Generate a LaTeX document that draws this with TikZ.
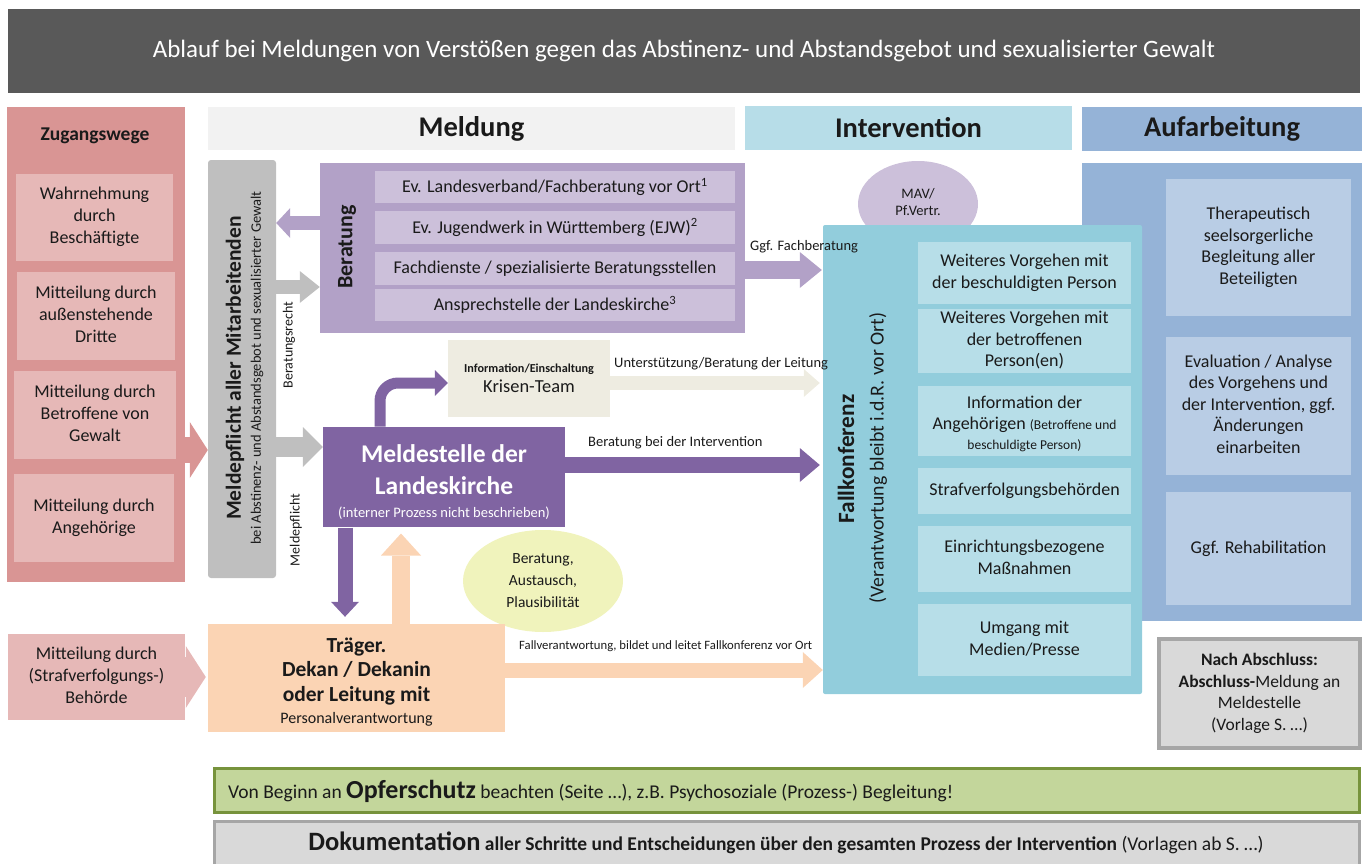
\documentclass[tikz,border=0pt]{standalone}
\usepackage{fontspec}
\setmainfont{Carlito}
\usetikzlibrary{arrows.meta, shapes.geometric}

\definecolor{titlegray}{HTML}{595959}
\definecolor{zugdark}{HTML}{D99594}
\definecolor{zuglight}{HTML}{E6B8B7}
\definecolor{meldhead}{HTML}{F2F2F2}
\definecolor{inthead}{HTML}{B7DDE8}
\definecolor{aufhead}{HTML}{95B3D7}
\definecolor{pflgray}{HTML}{BFBFBF}
\definecolor{berdark}{HTML}{B2A1C7}
\definecolor{berlight}{HTML}{CCC0DA}
\definecolor{melpurple}{HTML}{8064A2}
\definecolor{krisenc}{HTML}{EEECE1}
\definecolor{peach}{HTML}{FBD4B4}
\definecolor{yellowc}{HTML}{F0F3BC}
\definecolor{fallblue}{HTML}{92CDDC}
\definecolor{falllight}{HTML}{B7DEE8}
\definecolor{auflight}{HTML}{B9CDE5}
\definecolor{nachgray}{HTML}{D9D9D9}
\definecolor{nachline}{HTML}{A6A6A6}
\definecolor{opfergreen}{HTML}{C3D69B}
\definecolor{opferline}{HTML}{77933C}
\definecolor{textc}{HTML}{1A1A1A}

\newcommand{\fsz}[2]{\fontsize{#1}{#2}\selectfont}
\newcommand{\mlines}[1]{\begin{tabular}{@{}c@{}}#1\end{tabular}}

\tikzset{
  sz/.style 2 args={minimum width=#1pt, minimum height=#2pt},
  box/.style={inner sep=0pt, text=textc},
  head/.style={box, font=\bfseries\fsz{28.5}{32}},
  zbox/.style={box, fill=zuglight, font=\fsz{18}{22}},
  bbox/.style={box, fill=berlight, font=\fsz{18}{21}, sz={360}{32.5}},
  fbox/.style={box, fill=falllight, font=\fsz{18}{21.5}},
  abox/.style={box, fill=auflight, font=\fsz{18}{21.5}},
  lbl/.style={inner sep=0pt, text=textc, font=\fsz{14.5}{17}},
  fat/.style n args={4}{draw=#1, line width=#2pt,
    -{Triangle[width=#3pt, length=#4pt, line width=0pt]}},
}

\begin{document}
\begin{tikzpicture}[x=1pt, y=-1pt]
\useasboundingbox (0,0) rectangle (1367,864);

% title and column heads
\node[box, fill=titlegray, text=white, sz={1352}{84}, font=\fsz{25}{29}] (title) at (684,51)
  {Ablauf bei Meldungen von Verstößen gegen das Abstinenz- und Abstandsgebot und sexualisierter Gewalt};
\node[head, fill=meldhead, sz={527}{43}] (hmeld) at (471.5,128.5) {Meldung};
\node[head, fill=inthead, sz={327}{44}] (hint) at (908.5,128) {Intervention};
\node[head, fill=aufhead, sz={280}{44}] (hauf) at (1222,129) {Aufarbeitung};

% Zugangswege
\node[box, fill=zugdark, sz={178}{475}] (zug) at (96,344.5) {};
\node[lbl, font=\bfseries\fsz{19.5}{22}] (zughead) at (95,136) {Zugangswege};
\node[zbox, sz={157}{87}] (z1) at (94.5,217.5) {\mlines{Wahrnehmung\\durch\\Beschäftigte}};
\node[zbox, sz={158}{88}] (z2) at (96,316) {\mlines{Mitteilung durch\\außenstehende\\Dritte}};
\node[zbox, sz={162}{88}] (z3) at (95,415) {\mlines{Mitteilung durch\\Betroffene von\\Gewalt}};
\node[zbox, sz={160}{88}] (z4) at (94,518) {\mlines{Mitteilung durch\\Angehörige}};
\node[zbox, sz={177}{86}] (behoerde) at (96.5,677) {\mlines{Mitteilung durch\\(Strafverfolgungs-)\\Behörde}};

% Meldepflicht
\node[box, fill=pflgray, rounded corners=3pt, sz={68}{418}] (pflicht) at (242,369) {};
\node[lbl, rotate=90, font=\bfseries\fsz{21.5}{24}] (pfl1) at (235,368) {Meldepflicht aller Mitarbeitenden};
\node[lbl, rotate=90, font=\fsz{14.5}{17}] (pfl2) at (257,368) {bei Abstinenz- und Abstandsgebot und sexualisierter Gewalt};

% Beratung
\node[box, fill=berdark, sz={425}{170}] (ber) at (532.5,248) {};
\node[lbl, rotate=90, font=\bfseries\fsz{22}{26}] (berhead) at (347,247) {Beratung};
\node[bbox] (b1) at (555,187) {Ev. Landesverband/Fachberatung vor Ort\textsuperscript{1}};
\node[bbox] (b2) at (555,227.5) {Ev. Jugendwerk in Württemberg (EJW)\textsuperscript{2}};
\node[bbox] (b3) at (555,268.5) {Fachdienste / spezialisierte Beratungsstellen};
\node[bbox] (b4) at (555,305) {Ansprechstelle der Landeskirche\textsuperscript{3}};

% Krisen-Team
\node[box, fill=krisenc, sz={162}{77}, font=\fsz{16}{19.5}] (krisen) at (529,378.5)
  {\mlines{{\bfseries\fsz{12.2}{15}Information/Einschaltung}\\{\fsz{18.4}{20}Krisen-Team}}};

% Meldestelle
\node[box, fill=melpurple, text=white, sz={242}{100}, font=\bfseries\fsz{25.5}{32}] (melde) at (444,477)
  {\mlines{\rule{0pt}{36pt}Meldestelle der\\Landeskirche\\[-9pt]{\mdseries\fsz{14.5}{17}(interner Prozess nicht beschrieben)}}};

% Beratung, Austausch
\node[ellipse, fill=yellowc, inner sep=0pt, sz={160}{102},
  text=textc, font=\fsz{15.5}{22}] (austausch) at (543,581)
  {\mlines{Beratung,\\Austausch,\\Plausibilität}};

% Traeger
\node[box, fill=peach, sz={297}{108}, font=\bfseries\fsz{21.5}{24.5}] (traeger) at (356.5,678)
  {\mlines{\rule{0pt}{27pt}Träger.\\Dekan / Dekanin\\oder Leitung mit\\[-2pt]{\mdseries\fsz{16}{18}Personalverantwortung}}};

% Aufarbeitung
\node[box, fill=aufhead, sz={280}{458}] (auf) at (1222,392) {};
\node[abox, sz={185}{137}] (a1) at (1258.5,247.5) {\mlines{Therapeutisch\\seelsorgerliche\\Begleitung aller\\Beteiligten}};
\node[abox, sz={185}{138}] (a2) at (1258.5,406) {\mlines{Evaluation / Analyse\\des Vorgehens und\\der Intervention, ggf.\\Änderungen\\einarbeiten}};
\node[abox, sz={185}{113}] (a3) at (1258.5,548.5) {Ggf. Rehabilitation};

% MAV
\node[ellipse, fill=berlight, inner sep=0pt, sz={120}{86},
  text=textc, font=\fsz{14.5}{17}] (mav) at (918,204) {\mlines{MAV/\\Pf.Vertr.}};

% Fallkonferenz
\node[box, fill=fallblue, rounded corners=2pt, sz={319}{469}] (fall) at (982.5,459.5) {};
\node[lbl, rotate=90, font=\bfseries\fsz{23.3}{26}] (fallhead) at (846,459) {Fallkonferenz};
\node[lbl, rotate=90, font=\fsz{19.8}{22}] (fallsub) at (878,458) {(Verantwortung bleibt i.d.R. vor Ort)};
\node[fbox, sz={213}{62}] (f1) at (1024.5,273) {\mlines{Weiteres Vorgehen mit\\der beschuldigten Person}};
\node[fbox, sz={213}{62}] (f2) at (1024.5,341) {\mlines{Weiteres Vorgehen mit\\der betroffenen\\Person(en)}};
\node[fbox, sz={213}{70}] (f3) at (1024.5,421)
  {\mlines{\rule{0pt}{22pt}Information der\\Angehörigen {\fsz{13.5}{16}(Betroffene und}\\[-2pt]{\fsz{13.5}{16}beschuldigte Person)}}};
\node[fbox, sz={213}{46}] (f4) at (1024.5,491) {Strafverfolgungsbehörden};
\node[fbox, sz={213}{66}] (f5) at (1024.5,559) {\mlines{Einrichtungsbezogene\\Maßnahmen}};
\node[fbox, sz={213}{72}] (f6) at (1024.5,640) {\mlines{Umgang mit\\Medien/Presse}};

% Abschluss
\node[box, fill=nachgray, draw=nachline, line width=4pt, sz={201}{109}, font=\fsz{17.5}{21.5}] (nach) at (1259.5,693.5)
  {\mlines{\textbf{Nach Abschluss:}\\\textbf{Abschluss-}Meldung an\\Meldestelle\\(Vorlage S. …)}};

% bottom bars
\node[box, fill=opfergreen, draw=opferline, line width=3pt, sz={1145}{44}] (opfer) at (786.5,790) {};
\node[lbl, anchor=west, font=\fsz{19.5}{22}] (opfertext) at (228,791)
  {Von Beginn an {\bfseries\fsz{26}{28}Opferschutz} beachten (Seite …), z.B. Psychosoziale (Prozess-) Begleitung!};
\node[box, fill=nachgray, draw=nachline, line width=3pt, sz={1145}{51}] (doku) at (786.5,846.5) {};
\node[lbl, font=\fsz{19.5}{22}] (dokutext) at (786,843)
  {{\bfseries\fsz{26.5}{28}Dokumentation} \textbf{aller Schritte und Entscheidungen über den gesamten Prozess der Intervention} (Vorlagen ab S. …)};

% arrows
\draw[fat={zugdark}{26}{56}{18}] (zug.east |- 0,450) -- (pflicht.west |- 0,450);
\draw[fat={zuglight}{40}{62}{20}, shorten >=2pt] (behoerde.east) -- (traeger.west |- behoerde.east);
\draw[fat={berdark}{14}{30}{14}] (ber.west |- 0,223) -- (pflicht.east |- 0,223);
\draw[fat={pflgray}{14}{32}{20}] (pflicht.east |- 0,287) -- (ber.west |- 0,287);
\draw[fat={pflgray}{20}{40}{20}] (pflicht.east |- 0,447) -- (melde.west |- 0,447);
\draw[fat={berdark}{18}{36}{22}, shorten >=1pt] (ber.east |- 0,270) -- (fall.west |- 0,270);
\draw[fat={krisenc}{14}{28}{16}, shorten >=3pt] (krisen.east |- 0,383) -- (fall.west |- 0,383);
\draw[fat={melpurple}{16}{34}{20}, shorten >=3pt] (melde.east |- 0,465) -- (fall.west |- 0,465);
\draw[fat={melpurple}{11}{26}{13}, rounded corners=18pt] (melde.north -| 380,0) |- (krisen.west |- 0,383);
\draw[fat={melpurple}{15}{28}{15}, shorten >=7pt] (melde.south -| 345,0) -- (traeger.north -| 345,0);
\draw[fat={peach}{18}{40}{22}, shorten >=6pt] (traeger.north -| 401,0) -- (melde.south -| 401,0);
\draw[fat={peach}{15}{36}{20}] (traeger.east |- 0,670) -- (fall.west |- 0,670);

% arrow labels
\node[lbl, rotate=90, font=\fsz{14}{17}] (lrecht) at (289,345) {Beratungsrecht};
\node[lbl, rotate=90, font=\fsz{14}{17}] (lpflicht) at (296,530) {Meldepflicht};
\node[lbl, anchor=west] (lfach) at (750,247) {Ggf. Fachberatung};
\node[lbl, anchor=west] (lleit) at (614,364) {Unterstützung/Beratung der Leitung};
\node[lbl, anchor=west] (linterv) at (588,443) {Beratung bei der Intervention};
\node[lbl, anchor=west, font=\fsz{12.7}{15}] (lfallv) at (519,646) {Fallverantwortung, bildet und leitet Fallkonferenz vor Ort};
\end{tikzpicture}
\end{document}
